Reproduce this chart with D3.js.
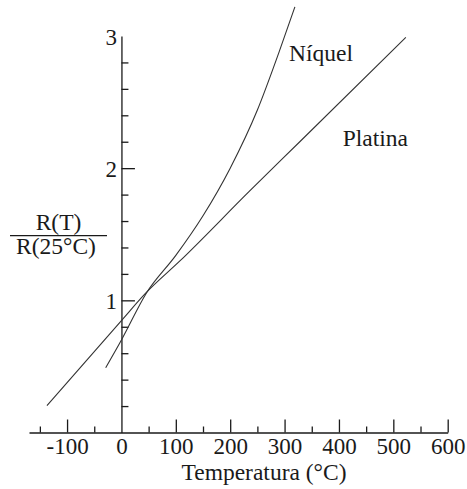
<!DOCTYPE html>
<html>
<head>
<meta charset="utf-8">
<script src="https://cdn.jsdelivr.net/npm/d3@7"></script>
<style>
  body { margin: 0; background: #fff; }
  text { font-family: "Liberation Serif", "Times New Roman", serif; fill: #1a1a1a; }
</style>
</head>
<body>
<div id="chart"></div>
<script>
// values
var xMajorTicks = [-100, 0, 100, 200, 300, 400, 500, 600];
var xMinorTicks = [-150, -50, 50, 150, 250, 350, 450, 550];
var yMajorTicks = [1, 2, 3];
var yMinorTicks = [0.2, 0.4, 0.6, 0.8, 1.2, 1.4, 1.6, 1.8, 2.2, 2.4, 2.6, 2.8];

var platinaT = [-137, 0, 45, 108, 235, 328, 523];
var platinaR = [0.204, 0.847, 1.056, 1.30, 1.824, 2.20, 2.99];

var niquelT = [-29, 0, 46, 100, 150, 200, 250, 290, 319];
var niquelR = [0.49, 0.70, 1.056, 1.34, 1.64, 2.0, 2.44, 2.88, 3.22];

var svgWidth = 467, svgHeight = 489;

var svg = d3.select("#chart")
    .append("svg")
    .attr("width", svgWidth)
    .attr("height", svgHeight);

var xScale = d3.scaleLinear()
    .domain([-170, 600])
    .range([29, 447.7]);

var yScale = d3.scaleLinear()
    .domain([0, 3])
    .range([432.5, 36]);

// x axis: major ticks
var xAxis = svg.append("g")
    .attr("transform", `translate(0, ${yScale(0)})`)
    .call(d3.axisBottom(xScale)
        .tickValues(xMajorTicks)
        .tickSizeInner(-13)
        .tickSizeOuter(0)
        .tickPadding(0)
        .tickFormat(d => String(d)));

xAxis.selectAll("text")
    .attr("y", 21.5)
    .attr("dy", null)
    .style("font-size", "23px");

// no tick line at 0, the y axis sits there
xAxis.selectAll(".tick").filter(d => d === 0).select("line").remove();

// x axis: minor ticks
svg.append("g")
    .attr("transform", `translate(0, ${yScale(0)})`)
    .call(d3.axisBottom(xScale)
        .tickValues(xMinorTicks)
        .tickSizeInner(-6)
        .tickSizeOuter(0)
        .tickFormat(""))
    .select(".domain").remove();

// y axis: minor ticks + line
var yAxis = svg.append("g")
    .attr("transform", `translate(${xScale(0)}, 0)`)
    .call(d3.axisRight(yScale)
        .tickValues(yMinorTicks)
        .tickSizeInner(7)
        .tickSizeOuter(0)
        .tickFormat(""));

// y axis: major ticks with labels on the left
var yMajor = svg.append("g")
    .attr("transform", `translate(${xScale(0)}, 0)`)
    .call(d3.axisRight(yScale)
        .tickValues(yMajorTicks)
        .tickSizeInner(13.5)
        .tickSizeOuter(0)
        .tickFormat(d => String(d)));
yMajor.select(".domain").remove();
yMajor.selectAll(".tick").filter(d => d === 3).select("line").remove();
yMajor.selectAll("text")
    .attr("x", -4.5)
    .attr("dy", "0.35em")
    .attr("text-anchor", "end")
    .style("font-size", "23px");

svg.selectAll(".domain, .tick line")
    .attr("stroke", "#1a1a1a")
    .attr("stroke-width", 1.3);

// curves
var line = d3.line()
    .x(d => xScale(d[0]))
    .y(d => yScale(d[1]))
    .curve(d3.curveMonotoneX);

svg.append("path")
    .datum(platinaT.map((t, i) => [t, platinaR[i]]))
    .attr("d", line)
    .attr("fill", "none")
    .attr("stroke", "#333")
    .attr("stroke-width", 1.1);

svg.append("path")
    .datum(niquelT.map((t, i) => [t, niquelR[i]]))
    .attr("d", line)
    .attr("fill", "none")
    .attr("stroke", "#333")
    .attr("stroke-width", 1.1);

// series labels
svg.append("text")
    .attr("x", 289)
    .attr("y", 61)
    .style("font-size", "23.5px")
    .text("Níquel");

svg.append("text")
    .attr("x", 342.7)
    .attr("y", 145.7)
    .style("font-size", "23.5px")
    .text("Platina");

// x title
svg.append("text")
    .attr("x", 264)
    .attr("y", 480)
    .attr("text-anchor", "middle")
    .style("font-size", "23.5px")
    .text("Temperatura (°C)");

// y title as a fraction
svg.append("text")
    .attr("x", 58.5)
    .attr("y", 230)
    .attr("text-anchor", "middle")
    .style("font-size", "23.5px")
    .text("R(T)");

svg.append("line")
    .attr("x1", 10)
    .attr("x2", 107)
    .attr("y1", 235.7)
    .attr("y2", 235.7)
    .attr("stroke", "#1a1a1a")
    .attr("stroke-width", 1.2);

svg.append("text")
    .attr("x", 56)
    .attr("y", 254)
    .attr("text-anchor", "middle")
    .style("font-size", "23.5px")
    .text("R(25°C)");
</script>
</body>
</html>
